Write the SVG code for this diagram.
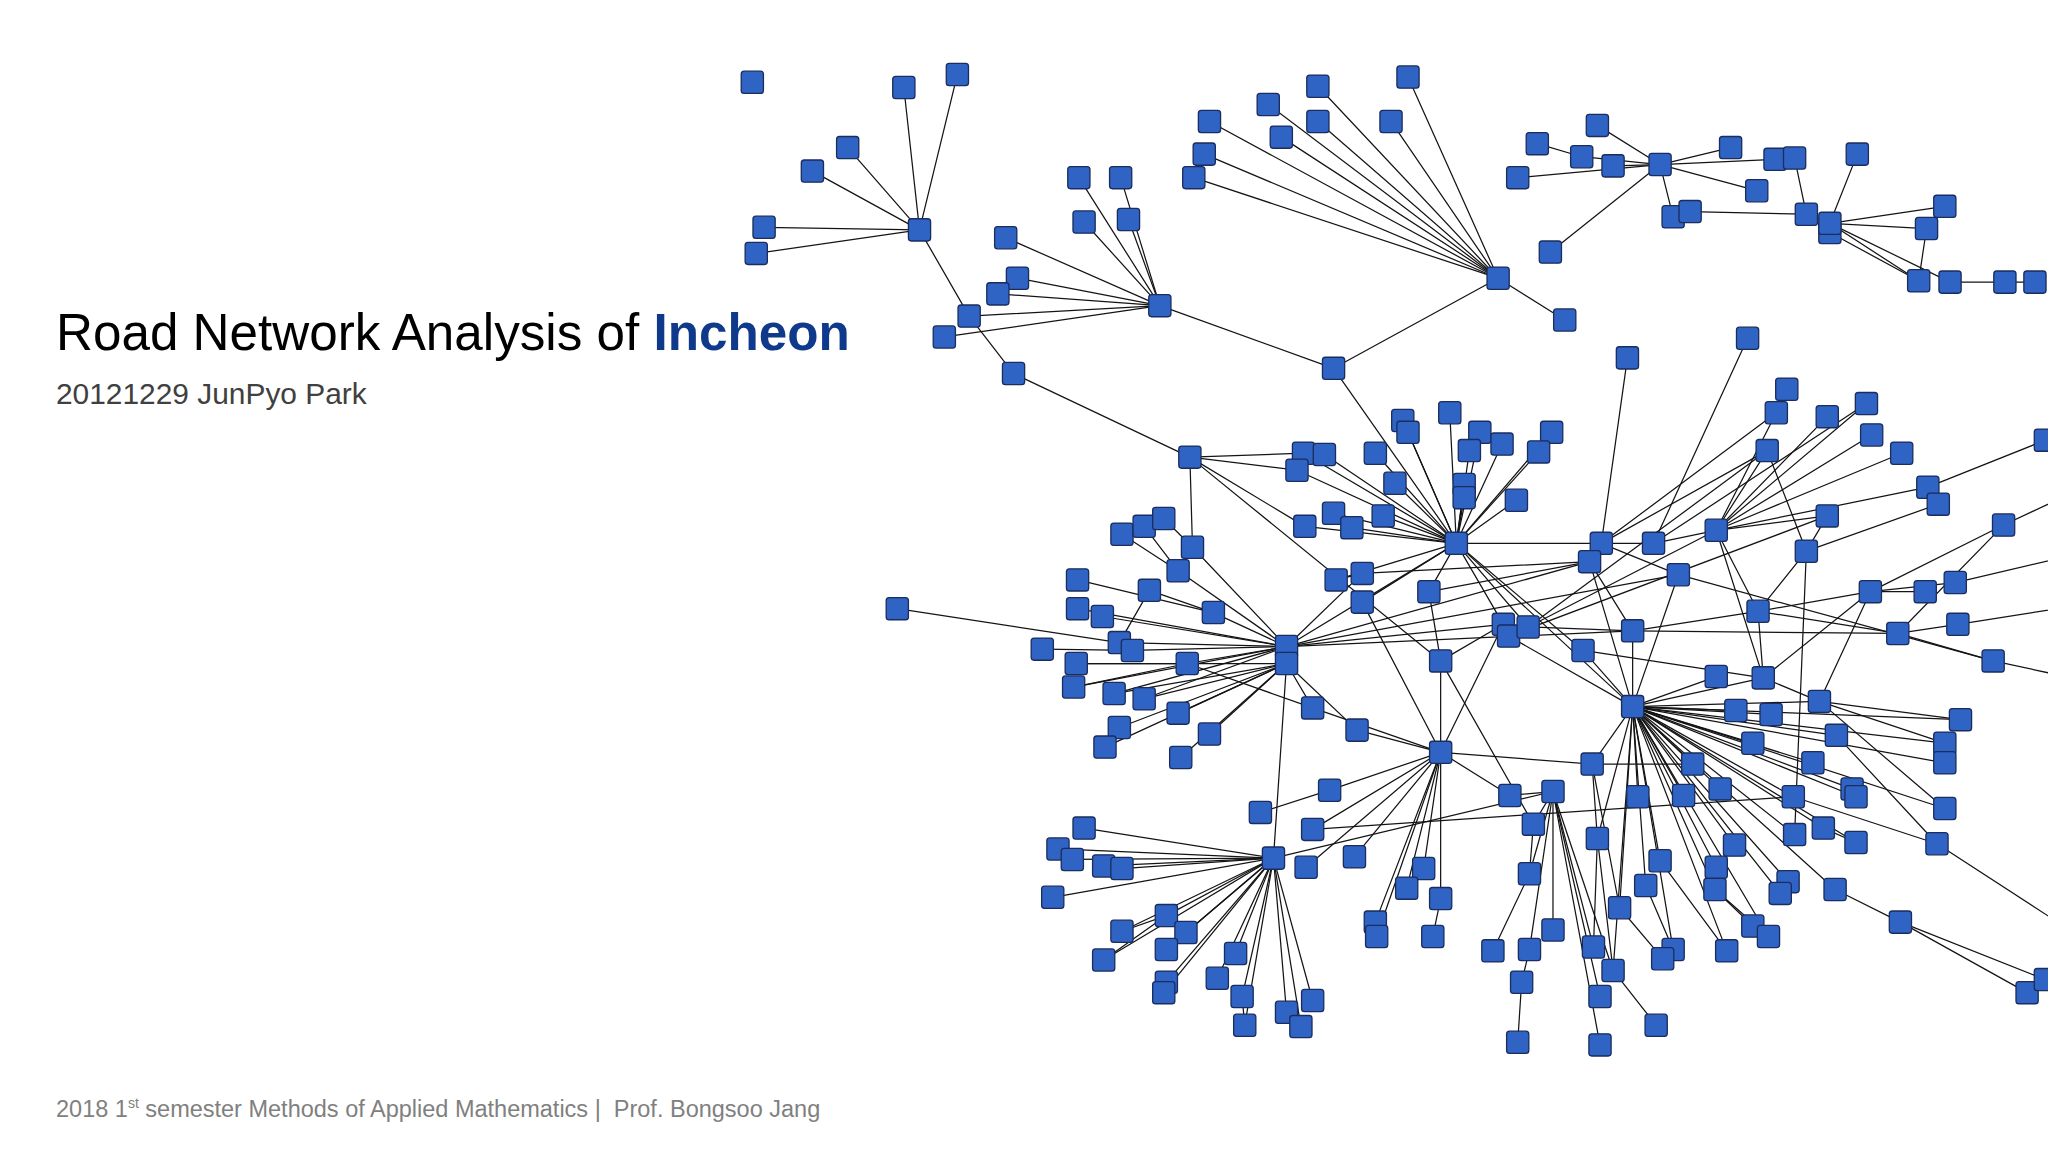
<svg xmlns="http://www.w3.org/2000/svg" xmlns:xlink="http://www.w3.org/1999/xlink" width="2048" height="1152" viewBox="0 0 2048 1152">
<style>
.t{font-family:"Liberation Sans",Arial,sans-serif}
.e line{stroke:#141414;stroke-width:0.95;stroke-linecap:round}
.nd{fill:#2f63c4;stroke:#1b2d5c;stroke-width:1}
</style>
<defs>
<rect id="nd" class="nd" x="-8.5" y="-8.5" width="17" height="17" rx="2.2"/>
</defs>
<rect width="2048" height="1152" fill="#ffffff"/>
<g id="title">
<text class="t" x="56" y="350" font-size="51.2" fill="#000000">Road Network Analysis of <tspan font-weight="bold" fill="#0f3a8c">Incheon</tspan></text>
<text class="t" x="56" y="404" font-size="29.9" fill="#404040">20121229 JunPyo Park</text>
<text class="t" x="56" y="1117" font-size="23.5" fill="#808080" xml:space="preserve">2018 1<tspan font-size="14" dy="-9">st</tspan><tspan dy="9"> semester Methods of Applied Mathematics |  Prof. Bongsoo Jang</tspan></text>
</g>
<g id="network" transform="scale(1.30612)">
<g id="connectors" class="e">
<line x1="704" y1="176" x2="692" y2="67"/><line x1="704" y1="176" x2="733" y2="57"/><line x1="704" y1="176" x2="649" y2="113"/><line x1="704" y1="176" x2="622" y2="131"/><line x1="704" y1="176" x2="585" y2="174"/><line x1="704" y1="176" x2="579" y2="194"/><line x1="704" y1="176" x2="742" y2="242"/><line x1="742" y1="242" x2="776" y2="286"/>
<line x1="888" y1="234" x2="826" y2="136"/><line x1="888" y1="234" x2="858" y2="136"/><line x1="888" y1="234" x2="830" y2="170"/><line x1="888" y1="234" x2="864" y2="168"/><line x1="888" y1="234" x2="770" y2="182"/><line x1="888" y1="234" x2="779" y2="213"/><line x1="888" y1="234" x2="764" y2="225"/><line x1="888" y1="234" x2="742" y2="242"/><line x1="888" y1="234" x2="723" y2="258"/><line x1="888" y1="234" x2="1021" y2="282"/>
<line x1="1147" y1="213" x2="1009" y2="66"/><line x1="1147" y1="213" x2="1078" y2="59"/><line x1="1147" y1="213" x2="971" y2="80"/><line x1="1147" y1="213" x2="926" y2="93"/><line x1="1147" y1="213" x2="1009" y2="93"/><line x1="1147" y1="213" x2="1065" y2="93"/><line x1="1147" y1="213" x2="981" y2="105"/><line x1="1147" y1="213" x2="922" y2="118"/><line x1="1147" y1="213" x2="914" y2="136"/><line x1="1147" y1="213" x2="1198" y2="245"/><line x1="1147" y1="213" x2="1021" y2="282"/>
<line x1="776" y1="286" x2="911" y2="350"/><line x1="1021" y1="282" x2="1115" y2="416"/>
<line x1="1271" y1="126" x2="1223" y2="96"/><line x1="1271" y1="126" x2="1211" y2="120"/><line x1="1271" y1="126" x2="1235" y2="127"/><line x1="1271" y1="126" x2="1162" y2="136"/><line x1="1271" y1="126" x2="1325" y2="113"/><line x1="1271" y1="126" x2="1359" y2="122"/><line x1="1271" y1="126" x2="1345" y2="146"/><line x1="1271" y1="126" x2="1281" y2="166"/><line x1="1271" y1="126" x2="1187" y2="193"/>
<line x1="1177" y1="110" x2="1211" y2="120"/><line x1="1294" y1="162" x2="1383" y2="164"/><line x1="1374" y1="121" x2="1383" y2="164"/>
<line x1="1401" y1="171" x2="1383" y2="164"/><line x1="1401" y1="171" x2="1422" y2="118"/><line x1="1401" y1="171" x2="1489" y2="158"/><line x1="1401" y1="171" x2="1475" y2="175"/><line x1="1401" y1="171" x2="1469" y2="215"/><line x1="1401" y1="171" x2="1493" y2="216"/><line x1="1401" y1="178" x2="1469" y2="215"/><line x1="1475" y1="175" x2="1469" y2="215"/><line x1="1493" y1="216" x2="1535" y2="216"/><line x1="1535" y1="216" x2="1558" y2="216"/>
<line x1="1246" y1="274" x2="1226" y2="416"/><line x1="1338" y1="259" x2="1266" y2="416"/>
<line x1="911" y1="350" x2="998" y2="347"/><line x1="911" y1="350" x2="993" y2="360"/><line x1="911" y1="350" x2="999" y2="403"/><line x1="911" y1="350" x2="913" y2="419"/><line x1="911" y1="350" x2="1103" y2="506"/>
<line x1="1115" y1="416" x2="998" y2="347"/><line x1="1115" y1="416" x2="993" y2="360"/><line x1="1115" y1="416" x2="1014" y2="348"/><line x1="1115" y1="416" x2="1053" y2="347"/><line x1="1115" y1="416" x2="1074" y2="322"/><line x1="1115" y1="416" x2="1078" y2="331"/><line x1="1115" y1="416" x2="1110" y2="316"/><line x1="1115" y1="416" x2="1133" y2="331"/><line x1="1115" y1="416" x2="1125" y2="345"/><line x1="1115" y1="416" x2="1150" y2="340"/><line x1="1115" y1="416" x2="1188" y2="331"/><line x1="1115" y1="416" x2="1178" y2="346"/><line x1="1115" y1="416" x2="1121" y2="371"/><line x1="1115" y1="416" x2="1121" y2="381"/><line x1="1115" y1="416" x2="1161" y2="383"/><line x1="1115" y1="416" x2="1068" y2="370"/><line x1="1115" y1="416" x2="1021" y2="393"/><line x1="1115" y1="416" x2="1035" y2="404"/><line x1="1115" y1="416" x2="1059" y2="395"/><line x1="1115" y1="416" x2="999" y2="403"/><line x1="1115" y1="416" x2="1226" y2="416"/><line x1="1115" y1="416" x2="1151" y2="478"/><line x1="1115" y1="416" x2="1170" y2="480"/><line x1="1115" y1="416" x2="1212" y2="498"/><line x1="1115" y1="416" x2="1250" y2="541"/><line x1="1115" y1="416" x2="985" y2="495"/><line x1="1115" y1="416" x2="1043" y2="461"/><line x1="1115" y1="416" x2="1094" y2="453"/><line x1="1115" y1="416" x2="1023" y2="444"/>
<line x1="985" y1="495" x2="913" y2="419"/><line x1="985" y1="495" x2="902" y2="437"/><line x1="985" y1="495" x2="929" y2="469"/><line x1="985" y1="495" x2="825" y2="466"/><line x1="985" y1="495" x2="844" y2="472"/><line x1="985" y1="495" x2="857" y2="492"/><line x1="985" y1="495" x2="867" y2="498"/><line x1="985" y1="495" x2="909" y2="508"/><line x1="985" y1="495" x2="822" y2="526"/><line x1="985" y1="495" x2="853" y2="531"/><line x1="985" y1="495" x2="876" y2="535"/><line x1="985" y1="495" x2="1151" y2="478"/><line x1="985" y1="495" x2="1250" y2="483"/><line x1="985" y1="495" x2="1217" y2="430"/><line x1="985" y1="495" x2="1285" y2="440"/><line x1="985" y1="495" x2="1043" y2="439"/>
<line x1="985" y1="508" x2="824" y2="508"/><line x1="985" y1="508" x2="902" y2="546"/><line x1="985" y1="508" x2="857" y2="557"/><line x1="985" y1="508" x2="846" y2="572"/><line x1="985" y1="508" x2="926" y2="562"/><line x1="985" y1="508" x2="904" y2="580"/><line x1="985" y1="508" x2="1005" y2="542"/><line x1="985" y1="508" x2="1039" y2="559"/><line x1="985" y1="508" x2="975" y2="657"/><line x1="985" y1="508" x2="876" y2="535"/><line x1="985" y1="508" x2="853" y2="531"/>
<line x1="859" y1="409" x2="902" y2="437"/><line x1="876" y1="403" x2="902" y2="437"/><line x1="891" y1="397" x2="913" y2="419"/><line x1="880" y1="452" x2="857" y2="492"/><line x1="880" y1="452" x2="929" y2="469"/><line x1="825" y1="444" x2="929" y2="469"/><line x1="687" y1="466" x2="857" y2="492"/><line x1="798" y1="497" x2="867" y2="498"/><line x1="824" y1="508" x2="909" y2="508"/><line x1="822" y1="526" x2="909" y2="508"/><line x1="909" y1="508" x2="1005" y2="542"/>
<line x1="975" y1="657" x2="830" y2="634"/><line x1="975" y1="657" x2="810" y2="650"/><line x1="975" y1="657" x2="821" y2="658"/><line x1="975" y1="657" x2="845" y2="663"/><line x1="975" y1="657" x2="859" y2="665"/><line x1="975" y1="657" x2="806" y2="687"/><line x1="975" y1="657" x2="893" y2="701"/><line x1="975" y1="657" x2="859" y2="713"/><line x1="975" y1="657" x2="908" y2="714"/><line x1="975" y1="657" x2="893" y2="727"/><line x1="975" y1="657" x2="845" y2="735"/><line x1="975" y1="657" x2="893" y2="752"/><line x1="975" y1="657" x2="891" y2="760"/><line x1="975" y1="657" x2="946" y2="730"/><line x1="975" y1="657" x2="932" y2="749"/><line x1="975" y1="657" x2="951" y2="763"/><line x1="975" y1="657" x2="953" y2="785"/><line x1="975" y1="657" x2="985" y2="775"/><line x1="975" y1="657" x2="996" y2="786"/><line x1="975" y1="657" x2="1005" y2="766"/><line x1="975" y1="657" x2="1189" y2="606"/>
<line x1="859" y1="713" x2="893" y2="701"/><line x1="845" y1="735" x2="893" y2="701"/><line x1="951" y1="763" x2="953" y2="785"/>
<line x1="965" y1="622" x2="1018" y2="605"/><line x1="1018" y1="605" x2="1103" y2="576"/><line x1="1005" y1="635" x2="1103" y2="576"/><line x1="1000" y1="664" x2="1103" y2="576"/><line x1="1037" y1="656" x2="1103" y2="576"/><line x1="1090" y1="665" x2="1103" y2="576"/><line x1="1077" y1="680" x2="1103" y2="576"/><line x1="1103" y1="688" x2="1103" y2="576"/><line x1="1053" y1="706" x2="1103" y2="576"/><line x1="1054" y1="717" x2="1103" y2="576"/><line x1="1097" y1="717" x2="1103" y2="688"/><line x1="1005" y1="635" x2="1373" y2="610"/>
<line x1="1103" y1="576" x2="1103" y2="506"/><line x1="1103" y1="576" x2="1151" y2="478"/><line x1="1103" y1="576" x2="1043" y2="461"/><line x1="1103" y1="576" x2="1005" y2="542"/><line x1="1103" y1="576" x2="1039" y2="559"/><line x1="1103" y1="576" x2="1219" y2="585"/><line x1="1103" y1="576" x2="1156" y2="609"/>
<line x1="1103" y1="506" x2="1094" y2="453"/><line x1="1103" y1="506" x2="1151" y2="478"/><line x1="1103" y1="506" x2="1174" y2="631"/><line x1="1094" y1="453" x2="1217" y2="430"/><line x1="1043" y1="439" x2="1217" y2="430"/><line x1="1023" y1="444" x2="1043" y2="439"/>
<line x1="1155" y1="487" x2="1399" y2="395"/><line x1="1170" y1="480" x2="1353" y2="345"/><line x1="1170" y1="480" x2="1250" y2="483"/><line x1="1170" y1="480" x2="1314" y2="406"/><line x1="1155" y1="487" x2="1250" y2="541"/>
<line x1="1250" y1="483" x2="1217" y2="430"/><line x1="1250" y1="483" x2="1250" y2="541"/><line x1="1250" y1="483" x2="1453" y2="485"/><line x1="1250" y1="483" x2="1346" y2="468"/><line x1="1212" y1="498" x2="1350" y2="519"/><line x1="1212" y1="498" x2="1250" y2="541"/>
<line x1="1226" y1="416" x2="1266" y2="416"/><line x1="1226" y1="416" x2="1285" y2="440"/><line x1="1226" y1="416" x2="1360" y2="316"/><line x1="1226" y1="416" x2="1353" y2="345"/><line x1="1266" y1="416" x2="1314" y2="406"/><line x1="1266" y1="416" x2="1429" y2="309"/><line x1="1285" y1="440" x2="1250" y2="541"/><line x1="1285" y1="440" x2="1526" y2="506"/><line x1="1217" y1="430" x2="1250" y2="541"/>
<line x1="1314" y1="406" x2="1360" y2="316"/><line x1="1314" y1="406" x2="1399" y2="319"/><line x1="1314" y1="406" x2="1429" y2="309"/><line x1="1314" y1="406" x2="1433" y2="333"/><line x1="1314" y1="406" x2="1456" y2="347"/><line x1="1314" y1="406" x2="1476" y2="373"/><line x1="1314" y1="406" x2="1399" y2="395"/><line x1="1314" y1="406" x2="1353" y2="345"/><line x1="1314" y1="406" x2="1350" y2="519"/><line x1="1314" y1="406" x2="1346" y2="468"/>
<line x1="1368" y1="298" x2="1360" y2="316"/><line x1="1353" y1="345" x2="1383" y2="422"/><line x1="1399" y1="395" x2="1383" y2="422"/><line x1="1383" y1="422" x2="1346" y2="468"/><line x1="1383" y1="422" x2="1374" y2="639"/><line x1="1383" y1="422" x2="1484" y2="386"/><line x1="1566" y1="337" x2="1476" y2="373"/>
<line x1="1534" y1="402" x2="1432" y2="453"/><line x1="1534" y1="402" x2="1453" y2="485"/><line x1="1534" y1="402" x2="1600" y2="371"/>
<line x1="1432" y1="453" x2="1474" y2="453"/><line x1="1432" y1="453" x2="1497" y2="446"/><line x1="1432" y1="453" x2="1346" y2="468"/><line x1="1432" y1="453" x2="1393" y2="537"/><line x1="1432" y1="453" x2="1350" y2="519"/>
<line x1="1497" y1="446" x2="1600" y2="422"/><line x1="1499" y1="478" x2="1600" y2="462"/><line x1="1526" y1="506" x2="1600" y2="522"/>
<line x1="1453" y1="485" x2="1346" y2="468"/><line x1="1453" y1="485" x2="1499" y2="478"/><line x1="1453" y1="485" x2="1526" y2="506"/><line x1="1346" y1="468" x2="1350" y2="519"/>
<line x1="1393" y1="537" x2="1350" y2="519"/><line x1="1393" y1="537" x2="1501" y2="551"/><line x1="1393" y1="537" x2="1489" y2="569"/><line x1="1393" y1="537" x2="1489" y2="619"/>
<line x1="1250" y1="541" x2="1314" y2="518"/><line x1="1250" y1="541" x2="1350" y2="519"/><line x1="1250" y1="541" x2="1393" y2="537"/><line x1="1250" y1="541" x2="1329" y2="544"/><line x1="1250" y1="541" x2="1356" y2="547"/><line x1="1250" y1="541" x2="1406" y2="563"/><line x1="1250" y1="541" x2="1489" y2="569"/><line x1="1250" y1="541" x2="1489" y2="584"/><line x1="1250" y1="541" x2="1219" y2="585"/><line x1="1250" y1="541" x2="1296" y2="585"/><line x1="1250" y1="541" x2="1388" y2="584"/><line x1="1250" y1="541" x2="1254" y2="610"/><line x1="1250" y1="541" x2="1289" y2="609"/><line x1="1250" y1="541" x2="1317" y2="604"/><line x1="1250" y1="541" x2="1373" y2="610"/><line x1="1250" y1="541" x2="1396" y2="634"/><line x1="1250" y1="541" x2="1223" y2="642"/><line x1="1250" y1="541" x2="1271" y2="659"/><line x1="1250" y1="541" x2="1328" y2="647"/><line x1="1250" y1="541" x2="1374" y2="639"/><line x1="1250" y1="541" x2="1314" y2="664"/><line x1="1250" y1="541" x2="1313" y2="681"/><line x1="1250" y1="541" x2="1260" y2="678"/><line x1="1250" y1="541" x2="1369" y2="675"/><line x1="1250" y1="541" x2="1363" y2="684"/><line x1="1250" y1="541" x2="1405" y2="681"/><line x1="1250" y1="541" x2="1240" y2="695"/><line x1="1250" y1="541" x2="1281" y2="727"/><line x1="1250" y1="541" x2="1235" y2="743"/><line x1="1250" y1="541" x2="1322" y2="728"/><line x1="1250" y1="541" x2="1354" y2="717"/><line x1="1250" y1="541" x2="1418" y2="604"/><line x1="1250" y1="541" x2="1421" y2="610"/><line x1="1250" y1="541" x2="1421" y2="645"/><line x1="1250" y1="541" x2="1489" y2="619"/><line x1="1250" y1="541" x2="1501" y2="551"/><line x1="1250" y1="541" x2="1342" y2="569"/>
<line x1="1219" y1="585" x2="1296" y2="585"/><line x1="1219" y1="585" x2="1223" y2="642"/><line x1="1219" y1="585" x2="1240" y2="695"/>
<line x1="1189" y1="606" x2="1156" y2="609"/><line x1="1189" y1="606" x2="1174" y2="631"/><line x1="1189" y1="606" x2="1171" y2="669"/><line x1="1189" y1="606" x2="1189" y2="712"/><line x1="1189" y1="606" x2="1220" y2="725"/><line x1="1189" y1="606" x2="1235" y2="743"/><line x1="1189" y1="606" x2="1225" y2="763"/><line x1="1189" y1="606" x2="1225" y2="800"/><line x1="1189" y1="606" x2="1171" y2="727"/>
<line x1="1174" y1="631" x2="1171" y2="669"/><line x1="1171" y1="669" x2="1143" y2="728"/><line x1="1171" y1="727" x2="1165" y2="752"/><line x1="1165" y1="752" x2="1162" y2="798"/><line x1="1223" y1="642" x2="1220" y2="725"/><line x1="1223" y1="642" x2="1235" y2="743"/><line x1="1235" y1="743" x2="1268" y2="785"/><line x1="1260" y1="678" x2="1281" y2="727"/><line x1="1240" y1="695" x2="1273" y2="734"/><line x1="1271" y1="659" x2="1322" y2="728"/><line x1="1313" y1="681" x2="1342" y2="709"/><line x1="1313" y1="681" x2="1354" y2="717"/>
<line x1="1483" y1="646" x2="1406" y2="563"/><line x1="1483" y1="646" x2="1373" y2="610"/><line x1="1483" y1="646" x2="1600" y2="722"/><line x1="1455" y1="706" x2="1405" y2="681"/><line x1="1455" y1="706" x2="1552" y2="760"/><line x1="1455" y1="706" x2="1566" y2="750"/><line x1="1421" y1="645" x2="1396" y2="634"/>
</g>
<g id="nodes">
<g id="n1" transform="translate(576 63)"><use href="#nd"/></g>
<g id="n2" transform="translate(692 67)"><use href="#nd"/></g>
<g id="n3" transform="translate(733 57)"><use href="#nd"/></g>
<g id="n4" transform="translate(649 113)"><use href="#nd"/></g>
<g id="n5" transform="translate(622 131)"><use href="#nd"/></g>
<g id="n6" transform="translate(704 176)"><use href="#nd"/></g>
<g id="n7" transform="translate(585 174)"><use href="#nd"/></g>
<g id="n8" transform="translate(579 194)"><use href="#nd"/></g>
<g id="n9" transform="translate(826 136)"><use href="#nd"/></g>
<g id="n10" transform="translate(858 136)"><use href="#nd"/></g>
<g id="n11" transform="translate(830 170)"><use href="#nd"/></g>
<g id="n12" transform="translate(864 168)"><use href="#nd"/></g>
<g id="n13" transform="translate(770 182)"><use href="#nd"/></g>
<g id="n14" transform="translate(779 213)"><use href="#nd"/></g>
<g id="n15" transform="translate(764 225)"><use href="#nd"/></g>
<g id="n16" transform="translate(742 242)"><use href="#nd"/></g>
<g id="n17" transform="translate(723 258)"><use href="#nd"/></g>
<g id="n18" transform="translate(888 234)"><use href="#nd"/></g>
<g id="n19" transform="translate(776 286)"><use href="#nd"/></g>
<g id="n20" transform="translate(1009 66)"><use href="#nd"/></g>
<g id="n21" transform="translate(1078 59)"><use href="#nd"/></g>
<g id="n22" transform="translate(971 80)"><use href="#nd"/></g>
<g id="n23" transform="translate(926 93)"><use href="#nd"/></g>
<g id="n24" transform="translate(1009 93)"><use href="#nd"/></g>
<g id="n25" transform="translate(1065 93)"><use href="#nd"/></g>
<g id="n26" transform="translate(981 105)"><use href="#nd"/></g>
<g id="n27" transform="translate(922 118)"><use href="#nd"/></g>
<g id="n28" transform="translate(914 136)"><use href="#nd"/></g>
<g id="n29" transform="translate(1147 213)"><use href="#nd"/></g>
<g id="n30" transform="translate(1198 245)"><use href="#nd"/></g>
<g id="n31" transform="translate(1021 282)"><use href="#nd"/></g>
<g id="n32" transform="translate(1187 193)"><use href="#nd"/></g>
<g id="n33" transform="translate(1177 110)"><use href="#nd"/></g>
<g id="n34" transform="translate(1211 120)"><use href="#nd"/></g>
<g id="n35" transform="translate(1162 136)"><use href="#nd"/></g>
<g id="n36" transform="translate(1223 96)"><use href="#nd"/></g>
<g id="n37" transform="translate(1235 127)"><use href="#nd"/></g>
<g id="n38" transform="translate(1271 126)"><use href="#nd"/></g>
<g id="n39" transform="translate(1325 113)"><use href="#nd"/></g>
<g id="n40" transform="translate(1359 122)"><use href="#nd"/></g>
<g id="n41" transform="translate(1374 121)"><use href="#nd"/></g>
<g id="n42" transform="translate(1345 146)"><use href="#nd"/></g>
<g id="n43" transform="translate(1281 166)"><use href="#nd"/></g>
<g id="n44" transform="translate(1294 162)"><use href="#nd"/></g>
<g id="n45" transform="translate(1383 164)"><use href="#nd"/></g>
<g id="n47" transform="translate(1401 178)"><use href="#nd"/></g>
<g id="n46" transform="translate(1401 171)"><use href="#nd"/></g>
<g id="n48" transform="translate(1422 118)"><use href="#nd"/></g>
<g id="n49" transform="translate(1489 158)"><use href="#nd"/></g>
<g id="n50" transform="translate(1475 175)"><use href="#nd"/></g>
<g id="n51" transform="translate(1469 215)"><use href="#nd"/></g>
<g id="n52" transform="translate(1493 216)"><use href="#nd"/></g>
<g id="n53" transform="translate(1535 216)"><use href="#nd"/></g>
<g id="n54" transform="translate(1558 216)"><use href="#nd"/></g>
<g id="n55" transform="translate(1246 274)"><use href="#nd"/></g>
<g id="n56" transform="translate(1338 259)"><use href="#nd"/></g>
<g id="n57" transform="translate(911 350)"><use href="#nd"/></g>
<g id="n58" transform="translate(998 347)"><use href="#nd"/></g>
<g id="n59" transform="translate(993 360)"><use href="#nd"/></g>
<g id="n60" transform="translate(1014 348)"><use href="#nd"/></g>
<g id="n61" transform="translate(1053 347)"><use href="#nd"/></g>
<g id="n62" transform="translate(1074 322)"><use href="#nd"/></g>
<g id="n63" transform="translate(1078 331)"><use href="#nd"/></g>
<g id="n64" transform="translate(1110 316)"><use href="#nd"/></g>
<g id="n65" transform="translate(1133 331)"><use href="#nd"/></g>
<g id="n66" transform="translate(1125 345)"><use href="#nd"/></g>
<g id="n67" transform="translate(1150 340)"><use href="#nd"/></g>
<g id="n68" transform="translate(1188 331)"><use href="#nd"/></g>
<g id="n69" transform="translate(1178 346)"><use href="#nd"/></g>
<g id="n70" transform="translate(1121 371)"><use href="#nd"/></g>
<g id="n71" transform="translate(1121 381)"><use href="#nd"/></g>
<g id="n72" transform="translate(1161 383)"><use href="#nd"/></g>
<g id="n73" transform="translate(1068 370)"><use href="#nd"/></g>
<g id="n74" transform="translate(1021 393)"><use href="#nd"/></g>
<g id="n75" transform="translate(1035 404)"><use href="#nd"/></g>
<g id="n76" transform="translate(1059 395)"><use href="#nd"/></g>
<g id="n77" transform="translate(999 403)"><use href="#nd"/></g>
<g id="n78" transform="translate(1115 416)"><use href="#nd"/></g>
<g id="n79" transform="translate(1023 444)"><use href="#nd"/></g>
<g id="n80" transform="translate(1043 439)"><use href="#nd"/></g>
<g id="n81" transform="translate(1043 461)"><use href="#nd"/></g>
<g id="n82" transform="translate(1094 453)"><use href="#nd"/></g>
<g id="n83" transform="translate(913 419)"><use href="#nd"/></g>
<g id="n84" transform="translate(859 409)"><use href="#nd"/></g>
<g id="n85" transform="translate(876 403)"><use href="#nd"/></g>
<g id="n86" transform="translate(891 397)"><use href="#nd"/></g>
<g id="n87" transform="translate(902 437)"><use href="#nd"/></g>
<g id="n88" transform="translate(880 452)"><use href="#nd"/></g>
<g id="n89" transform="translate(929 469)"><use href="#nd"/></g>
<g id="n90" transform="translate(825 444)"><use href="#nd"/></g>
<g id="n91" transform="translate(825 466)"><use href="#nd"/></g>
<g id="n92" transform="translate(844 472)"><use href="#nd"/></g>
<g id="n93" transform="translate(687 466)"><use href="#nd"/></g>
<g id="n94" transform="translate(798 497)"><use href="#nd"/></g>
<g id="n95" transform="translate(857 492)"><use href="#nd"/></g>
<g id="n96" transform="translate(867 498)"><use href="#nd"/></g>
<g id="n97" transform="translate(909 508)"><use href="#nd"/></g>
<g id="n98" transform="translate(824 508)"><use href="#nd"/></g>
<g id="n99" transform="translate(822 526)"><use href="#nd"/></g>
<g id="n100" transform="translate(853 531)"><use href="#nd"/></g>
<g id="n101" transform="translate(876 535)"><use href="#nd"/></g>
<g id="n102" transform="translate(902 546)"><use href="#nd"/></g>
<g id="n103" transform="translate(857 557)"><use href="#nd"/></g>
<g id="n104" transform="translate(846 572)"><use href="#nd"/></g>
<g id="n105" transform="translate(926 562)"><use href="#nd"/></g>
<g id="n106" transform="translate(904 580)"><use href="#nd"/></g>
<g id="n107" transform="translate(985 495)"><use href="#nd"/></g>
<g id="n108" transform="translate(985 508)"><use href="#nd"/></g>
<g id="n109" transform="translate(1005 542)"><use href="#nd"/></g>
<g id="n110" transform="translate(1039 559)"><use href="#nd"/></g>
<g id="n111" transform="translate(1103 506)"><use href="#nd"/></g>
<g id="n112" transform="translate(1103 576)"><use href="#nd"/></g>
<g id="n113" transform="translate(1151 478)"><use href="#nd"/></g>
<g id="n114" transform="translate(1155 487)"><use href="#nd"/></g>
<g id="n115" transform="translate(1170 480)"><use href="#nd"/></g>
<g id="n116" transform="translate(1212 498)"><use href="#nd"/></g>
<g id="n117" transform="translate(1250 483)"><use href="#nd"/></g>
<g id="n118" transform="translate(1226 416)"><use href="#nd"/></g>
<g id="n119" transform="translate(1217 430)"><use href="#nd"/></g>
<g id="n120" transform="translate(1266 416)"><use href="#nd"/></g>
<g id="n121" transform="translate(1285 440)"><use href="#nd"/></g>
<g id="n122" transform="translate(1250 541)"><use href="#nd"/></g>
<g id="n123" transform="translate(1314 406)"><use href="#nd"/></g>
<g id="n124" transform="translate(1368 298)"><use href="#nd"/></g>
<g id="n125" transform="translate(1360 316)"><use href="#nd"/></g>
<g id="n126" transform="translate(1399 319)"><use href="#nd"/></g>
<g id="n127" transform="translate(1429 309)"><use href="#nd"/></g>
<g id="n128" transform="translate(1433 333)"><use href="#nd"/></g>
<g id="n129" transform="translate(1353 345)"><use href="#nd"/></g>
<g id="n130" transform="translate(1456 347)"><use href="#nd"/></g>
<g id="n131" transform="translate(1476 373)"><use href="#nd"/></g>
<g id="n132" transform="translate(1484 386)"><use href="#nd"/></g>
<g id="n133" transform="translate(1566 337)"><use href="#nd"/></g>
<g id="n134" transform="translate(1534 402)"><use href="#nd"/></g>
<g id="n135" transform="translate(1399 395)"><use href="#nd"/></g>
<g id="n136" transform="translate(1383 422)"><use href="#nd"/></g>
<g id="n137" transform="translate(1432 453)"><use href="#nd"/></g>
<g id="n138" transform="translate(1474 453)"><use href="#nd"/></g>
<g id="n139" transform="translate(1497 446)"><use href="#nd"/></g>
<g id="n140" transform="translate(1346 468)"><use href="#nd"/></g>
<g id="n141" transform="translate(1453 485)"><use href="#nd"/></g>
<g id="n142" transform="translate(1499 478)"><use href="#nd"/></g>
<g id="n143" transform="translate(1526 506)"><use href="#nd"/></g>
<g id="n144" transform="translate(1314 518)"><use href="#nd"/></g>
<g id="n145" transform="translate(1350 519)"><use href="#nd"/></g>
<g id="n146" transform="translate(1393 537)"><use href="#nd"/></g>
<g id="n147" transform="translate(1329 544)"><use href="#nd"/></g>
<g id="n148" transform="translate(1356 547)"><use href="#nd"/></g>
<g id="n149" transform="translate(1406 563)"><use href="#nd"/></g>
<g id="n150" transform="translate(1501 551)"><use href="#nd"/></g>
<g id="n151" transform="translate(1489 569)"><use href="#nd"/></g>
<g id="n152" transform="translate(1342 569)"><use href="#nd"/></g>
<g id="n153" transform="translate(1489 584)"><use href="#nd"/></g>
<g id="n154" transform="translate(1219 585)"><use href="#nd"/></g>
<g id="n155" transform="translate(1296 585)"><use href="#nd"/></g>
<g id="n156" transform="translate(1388 584)"><use href="#nd"/></g>
<g id="n157" transform="translate(1156 609)"><use href="#nd"/></g>
<g id="n158" transform="translate(1189 606)"><use href="#nd"/></g>
<g id="n159" transform="translate(1254 610)"><use href="#nd"/></g>
<g id="n160" transform="translate(1289 609)"><use href="#nd"/></g>
<g id="n161" transform="translate(1317 604)"><use href="#nd"/></g>
<g id="n162" transform="translate(1373 610)"><use href="#nd"/></g>
<g id="n163" transform="translate(1396 634)"><use href="#nd"/></g>
<g id="n164" transform="translate(1174 631)"><use href="#nd"/></g>
<g id="n165" transform="translate(1223 642)"><use href="#nd"/></g>
<g id="n166" transform="translate(1271 659)"><use href="#nd"/></g>
<g id="n167" transform="translate(1328 647)"><use href="#nd"/></g>
<g id="n168" transform="translate(1374 639)"><use href="#nd"/></g>
<g id="n169" transform="translate(1314 664)"><use href="#nd"/></g>
<g id="n170" transform="translate(1313 681)"><use href="#nd"/></g>
<g id="n171" transform="translate(1171 669)"><use href="#nd"/></g>
<g id="n172" transform="translate(1260 678)"><use href="#nd"/></g>
<g id="n173" transform="translate(1369 675)"><use href="#nd"/></g>
<g id="n174" transform="translate(1363 684)"><use href="#nd"/></g>
<g id="n175" transform="translate(1405 681)"><use href="#nd"/></g>
<g id="n176" transform="translate(1240 695)"><use href="#nd"/></g>
<g id="n177" transform="translate(1189 712)"><use href="#nd"/></g>
<g id="n178" transform="translate(1143 728)"><use href="#nd"/></g>
<g id="n179" transform="translate(1171 727)"><use href="#nd"/></g>
<g id="n180" transform="translate(1220 725)"><use href="#nd"/></g>
<g id="n181" transform="translate(1281 727)"><use href="#nd"/></g>
<g id="n182" transform="translate(1273 734)"><use href="#nd"/></g>
<g id="n183" transform="translate(1235 743)"><use href="#nd"/></g>
<g id="n184" transform="translate(1322 728)"><use href="#nd"/></g>
<g id="n185" transform="translate(1342 709)"><use href="#nd"/></g>
<g id="n186" transform="translate(1354 717)"><use href="#nd"/></g>
<g id="n187" transform="translate(1165 752)"><use href="#nd"/></g>
<g id="n188" transform="translate(1225 763)"><use href="#nd"/></g>
<g id="n189" transform="translate(1162 798)"><use href="#nd"/></g>
<g id="n190" transform="translate(1225 800)"><use href="#nd"/></g>
<g id="n191" transform="translate(1268 785)"><use href="#nd"/></g>
<g id="n192" transform="translate(1418 604)"><use href="#nd"/></g>
<g id="n193" transform="translate(1421 610)"><use href="#nd"/></g>
<g id="n194" transform="translate(1421 645)"><use href="#nd"/></g>
<g id="n195" transform="translate(1483 646)"><use href="#nd"/></g>
<g id="n196" transform="translate(1489 619)"><use href="#nd"/></g>
<g id="n197" transform="translate(1455 706)"><use href="#nd"/></g>
<g id="n198" transform="translate(1552 760)"><use href="#nd"/></g>
<g id="n199" transform="translate(1566 750)"><use href="#nd"/></g>
<g id="n200" transform="translate(975 657)"><use href="#nd"/></g>
<g id="n201" transform="translate(830 634)"><use href="#nd"/></g>
<g id="n202" transform="translate(810 650)"><use href="#nd"/></g>
<g id="n203" transform="translate(821 658)"><use href="#nd"/></g>
<g id="n204" transform="translate(845 663)"><use href="#nd"/></g>
<g id="n205" transform="translate(859 665)"><use href="#nd"/></g>
<g id="n206" transform="translate(806 687)"><use href="#nd"/></g>
<g id="n207" transform="translate(893 701)"><use href="#nd"/></g>
<g id="n208" transform="translate(859 713)"><use href="#nd"/></g>
<g id="n209" transform="translate(908 714)"><use href="#nd"/></g>
<g id="n210" transform="translate(893 727)"><use href="#nd"/></g>
<g id="n211" transform="translate(845 735)"><use href="#nd"/></g>
<g id="n212" transform="translate(893 752)"><use href="#nd"/></g>
<g id="n213" transform="translate(891 760)"><use href="#nd"/></g>
<g id="n214" transform="translate(946 730)"><use href="#nd"/></g>
<g id="n215" transform="translate(932 749)"><use href="#nd"/></g>
<g id="n216" transform="translate(951 763)"><use href="#nd"/></g>
<g id="n217" transform="translate(953 785)"><use href="#nd"/></g>
<g id="n218" transform="translate(985 775)"><use href="#nd"/></g>
<g id="n219" transform="translate(996 786)"><use href="#nd"/></g>
<g id="n220" transform="translate(1005 766)"><use href="#nd"/></g>
<g id="n221" transform="translate(965 622)"><use href="#nd"/></g>
<g id="n222" transform="translate(1018 605)"><use href="#nd"/></g>
<g id="n223" transform="translate(1005 635)"><use href="#nd"/></g>
<g id="n224" transform="translate(1000 664)"><use href="#nd"/></g>
<g id="n225" transform="translate(1037 656)"><use href="#nd"/></g>
<g id="n226" transform="translate(1090 665)"><use href="#nd"/></g>
<g id="n227" transform="translate(1077 680)"><use href="#nd"/></g>
<g id="n228" transform="translate(1103 688)"><use href="#nd"/></g>
<g id="n229" transform="translate(1053 706)"><use href="#nd"/></g>
<g id="n230" transform="translate(1054 717)"><use href="#nd"/></g>
<g id="n231" transform="translate(1097 717)"><use href="#nd"/></g>
</g>
</g>
</svg>
